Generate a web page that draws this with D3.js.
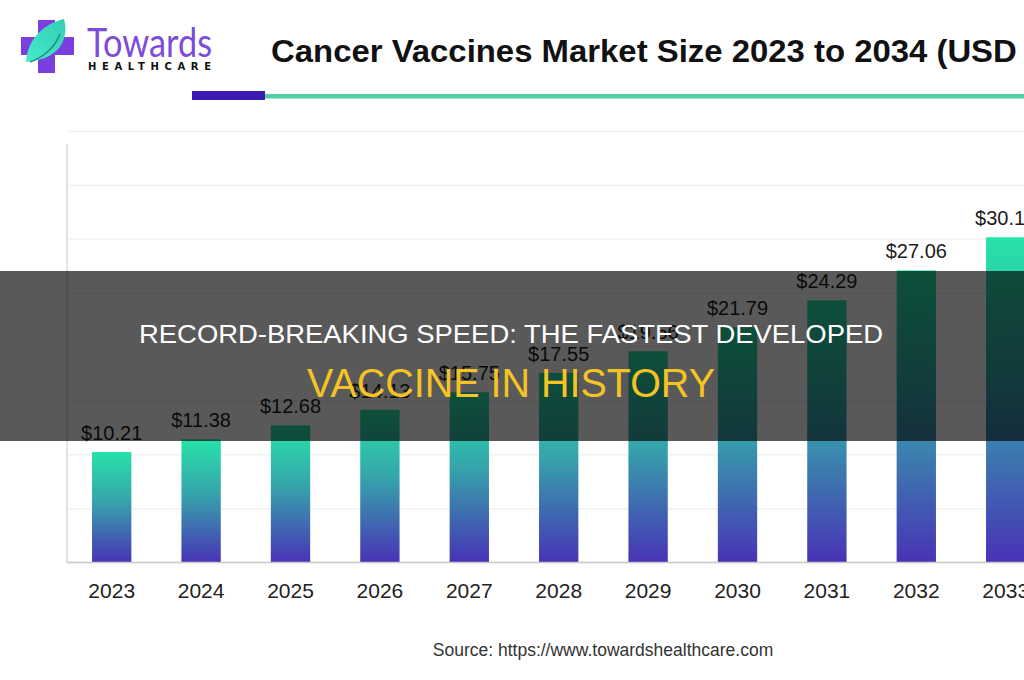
<!DOCTYPE html>
<html><head><meta charset="utf-8">
<script src="https://cdn.jsdelivr.net/npm/d3@7"></script>
<style>body{margin:0;background:#fff}svg{display:block}</style>
</head><body>
<svg id="c" width="1024" height="680"></svg>
<script>
// ---- data ----
const years = ["2023","2024","2025","2026","2027","2028","2029","2030","2031","2032","2033"];
const values = [10.21, 11.38, 12.68, 14.13, 15.75, 17.55, 19.56, 21.79, 24.29, 27.06, 30.14];
const yTicks = [0, 5, 10, 15, 20, 25, 30, 35, 40];
const titleText = "Cancer Vaccines Market Size 2023 to 2034 (USD Billion)";
const titleVisible = "Cancer Vaccines Market Size 2023 to 2034 (USD";
const sourceText = "Source: https://www.towardshealthcare.com";
const overlayLine1 = "RECORD-BREAKING SPEED: THE FASTEST DEVELOPED";
const overlayLine2 = "VACCINE IN HISTORY";
const brandName = "Towards";
const brandSub = "HEALTHCARE";

const svg = d3.select("#c");
const FONT = "'Liberation Sans', Arial, Helvetica, sans-serif";

// ---- gradients ----
const defs = svg.append("defs");
const bg = defs.append("linearGradient").attr("id","barGrad").attr("x1",0).attr("y1",0).attr("x2",0).attr("y2",1);
bg.append("stop").attr("offset","0%").attr("stop-color","#27e3a9");
bg.append("stop").attr("offset","45%").attr("stop-color","#36a3ab");
bg.append("stop").attr("offset","100%").attr("stop-color","#4833b6");
const lg = defs.append("linearGradient").attr("id","leafGrad").attr("x1",0).attr("y1",1).attr("x2",1).attr("y2",0);
lg.append("stop").attr("offset","0%").attr("stop-color","#45ecc8");
lg.append("stop").attr("offset","100%").attr("stop-color","#33cdb6");

// ---- logo ----
const logo = svg.append("g");
logo.append("rect").attr("x",38).attr("y",20).attr("width",17).attr("height",53).attr("fill","#7b3fe0");
logo.append("rect").attr("x",21).attr("y",37).attr("width",53).attr("height",18).attr("fill","#7b3fe0");
logo.append("path").attr("d","M26,62 C27,41 42,24 64,19 C69,37 61,57 33,61 Z").attr("fill","url(#leafGrad)");
logo.append("path").attr("d","M30,62 C42,58 55,48 60,34").attr("fill","none").attr("stroke","#1f8f86").attr("stroke-width",1.6);
logo.append("text").attr("x",87).attr("y",57).attr("font-family","Lato, 'Noto Sans', sans-serif")
  .attr("font-size",40).attr("font-weight",400).attr("fill","#7d4bdc")
  .attr("textLength",125).attr("lengthAdjust","spacingAndGlyphs").text(brandName);
logo.append("text").attr("x",88).attr("y",70).attr("font-family","'DejaVu Sans', sans-serif")
  .attr("font-size",10).attr("font-weight",700).attr("fill","#111")
  .attr("textLength",123).attr("lengthAdjust","spacing").text(brandSub);

// ---- title ----
const t = svg.append("text").attr("x",0).attr("y",0).attr("font-family",FONT)
  .attr("font-size",31).attr("font-weight",700).attr("fill","#111").text(titleVisible);
const wVis = t.node().getComputedTextLength();
const sx = 746 / wVis;
t.text(titleText).attr("transform",`translate(271,62) scale(${sx},1)`);

// underline
svg.append("rect").attr("x",265).attr("y",94).attr("width",759).attr("height",4.5).attr("fill","#4fcfa8");
svg.append("rect").attr("x",192).attr("y",91).attr("width",73).attr("height",9).attr("fill","#3a1cb2");

// ---- chart ----
const x = d3.scaleBand().domain(years).range([67, 67 + 11 * 89.4]).paddingInner(0.56).paddingOuter(0.28);
const y = d3.scaleLinear().domain([0, 40]).range([562, 131]);

const grid = svg.append("g").attr("transform","translate(67,0)")
  .call(d3.axisLeft(y).tickValues(yTicks).tickSize(-(1024 - 67)).tickFormat(""));
grid.select(".domain").remove();
grid.selectAll(".tick line").attr("stroke","#f2f2f2").attr("stroke-width",1.5);

svg.append("line").attr("x1",67).attr("x2",67).attr("y1",y(38.8)).attr("y2",y(0))
  .attr("stroke","#e3e3e3").attr("stroke-width",2);

svg.append("g").selectAll("rect").data(values).join("rect")
  .attr("x",(d,i)=>x(years[i])).attr("width",x.bandwidth())
  .attr("y",d=>y(d)).attr("height",d=>y(0)-y(d))
  .attr("fill","url(#barGrad)");

svg.append("line").attr("x1",67).attr("x2",1024).attr("y1",y(0)+0.5).attr("y2",y(0)+0.5)
  .attr("stroke","#c9c9c9").attr("stroke-width",1.5);

svg.append("g").selectAll("text").data(values).join("text")
  .attr("x",(d,i)=>x(years[i]) + x.bandwidth()/2).attr("y",d=>y(d) - 12)
  .attr("text-anchor","middle").attr("font-family",FONT).attr("font-size",20).attr("fill","#1c1c1c")
  .text(d=>"$" + d.toFixed(2));

const xa = svg.append("g").attr("transform",`translate(0,${y(0)})`)
  .call(d3.axisBottom(x).tickSize(0).tickPadding(0));
xa.select(".domain").remove();
xa.selectAll("text").attr("font-family",FONT).attr("font-size",21).attr("fill","#222")
  .attr("dy",0).attr("y",36);

svg.append("text").attr("x",603).attr("y",656).attr("text-anchor","middle")
  .attr("font-family",FONT).attr("font-size",17.5).attr("fill","#333").text(sourceText);

// ---- overlay ----
svg.append("rect").attr("x",0).attr("y",271).attr("width",1024).attr("height",170)
  .attr("fill","#000").attr("fill-opacity",0.65);
svg.append("text").attr("x",511).attr("y",343).attr("text-anchor","middle")
  .attr("font-family",FONT).attr("font-size",25).attr("fill","#ffffff")
  .attr("textLength",744).attr("lengthAdjust","spacingAndGlyphs").text(overlayLine1);
svg.append("text").attr("x",511).attr("y",397).attr("text-anchor","middle")
  .attr("font-family",FONT).attr("font-size",40).attr("fill","#f6c324")
  .attr("textLength",408).attr("lengthAdjust","spacingAndGlyphs").text(overlayLine2);
</script>
</body></html>
